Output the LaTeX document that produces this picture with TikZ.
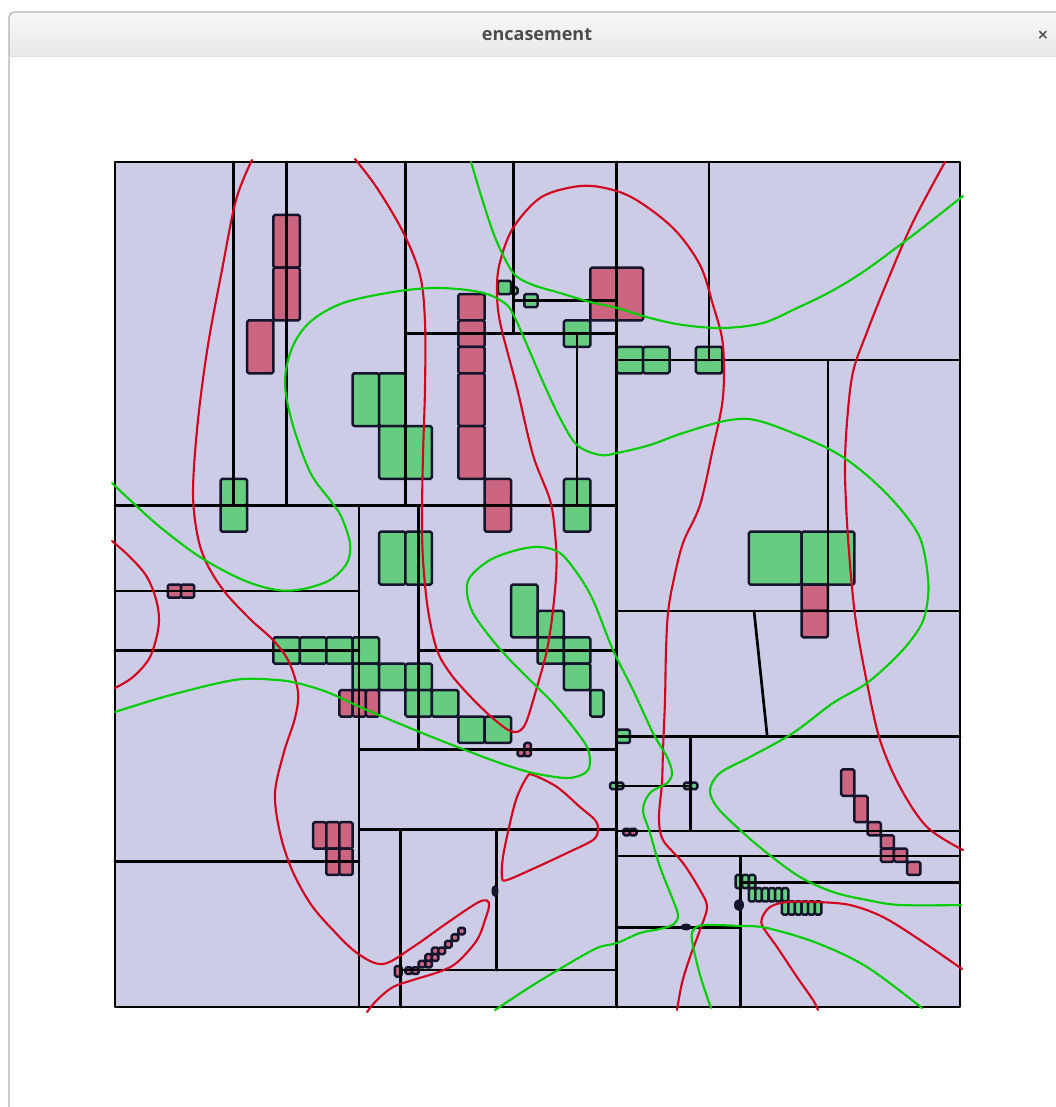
\documentclass[tikz,border=0pt]{standalone}
\usepackage{fontspec}
\newfontfamily\titlefont{Open Sans}
\newfontfamily\symfont{DejaVu Sans}
\definecolor{lav}{RGB}{204,204,230}
\definecolor{grnfill}{RGB}{102,204,128}
\definecolor{redfill}{RGB}{204,102,128}
\definecolor{rim}{RGB}{20,20,45}
\definecolor{redline}{RGB}{210,0,30}
\definecolor{grnline}{RGB}{0,205,0}
\definecolor{barTop}{RGB}{248,248,248}
\definecolor{barBot}{RGB}{232,232,232}
\definecolor{titlegray}{RGB}{76,76,76}
\begin{document}
\begin{tikzpicture}[x=0.5pt, y=-0.5pt, line join=round, line cap=round,
  cut/.style={line width=1.35pt, black},
  gbox/.style={fill=grnfill, draw=rim, line width=1.25pt, rounded corners=0.8pt},
  pbox/.style={fill=redfill, draw=rim, line width=1.25pt, rounded corners=0.8pt},
  redc/.style={draw=redline, line width=1.05pt},
  grnc/.style={draw=grnline, line width=1.05pt}]
\useasboundingbox (0,0) rectangle (1055,1107);
\fill[white] (0,0) rectangle (1055,1107);
\path[top color=barTop, bottom color=barBot] (9,57) [rounded corners=3pt] -- (9,12) -- (1064,12) [sharp corners] -- (1064,57) -- cycle;
\draw[gray!60, line width=0.6pt] (9,1110) [rounded corners=3pt] -- (9,12) -- (1064,12);
\draw[gray!25, line width=0.5pt] (9,57) -- (1064,57);
\node[font=\titlefont\bfseries\fontsize{9}{10}\selectfont, text=titlegray] (title) at (537,35) {encasement};
\node[font=\symfont\bfseries\fontsize{7}{8}\selectfont, text=titlegray] (close) at (1043,35) {×};

\begin{scope}[shift={(115,162)}, x=13.203pt, y=-13.203pt]
  \fill[lav] (0,0) rectangle (32,32);
  \foreach \a/\b/\c/\d in {4/12/5/13, 4/13/5/14, 9/8/10/10, 10/8/11/10, 10/10/11/12, 11/10/12/12,
    14.5/4.5/15/5, 15/4.75/15.25/5, 15.5/5/16/5.5, 17/6/18/7, 19/7/20/8, 20/7/21/8, 22/7/23/8,
    17/12/18/14, 10/14/11/16, 11/14/12/16, 24/14/26/16, 26/14/28/16,
    15/16/16/18, 16/17/17/18, 16/18/17/19, 17/18/18/19, 17/19/18/20, 18/20/18.5/21,
    6/18/7/19, 7/18/8/19, 8/18/9/19, 9/18/10/19, 9/19/10/20, 10/19/11/20, 11/19/12/20,
    11/20/12/21, 12/20/13/21, 13/21/14/22, 14/21/15/22, 19/21.5/19.5/22,
    18.75/23.5/19/23.75, 19/23.5/19.25/23.75, 21.55/23.5/21.8/23.75, 21.8/23.5/22.05/23.75,
    23.5/27/23.75/27.5, 23.75/27/24/27.5, 24/27/24.25/27.5}
    \draw[gbox] (\a,\b) rectangle (\c,\d);
  \foreach \i in {0,...,5} {
    \draw[gbox] (24+\i/4,27.5) rectangle (24.25+\i/4,28);
    \draw[gbox] (25.25+\i/4,28) rectangle (25.5+\i/4,28.5);
  }
  \foreach \a/\b/\c/\d in {6/2/7/4, 6/4/7/6, 5/6/6/8, 13/5/14/6, 13/6/14/7, 13/7/14/8, 13/8/14/10,
    13/10/14/12, 14/12/15/13, 14/13/15/14, 18/4/20/6, 2/16/2.5/16.5, 2.5/16/3/16.5,
    8.5/20/9/21, 9/20/9.5/21, 9.5/20/10/21,
    15.5/22/15.75/22.25, 15.25/22.25/15.5/22.5, 15.5/22.25/15.75/22.5,
    7.5/25/8/26, 8/25/8.5/26, 8.5/25/9/26, 8/26/8.5/27, 8.5/26/9/27, 26/16/27/17, 26/17/27/18,
    27.5/23/28/24, 28/24/28.5/25, 28.5/25/29/25.5, 29/25.5/29.5/26, 29/26/29.5/26.5,
    29.5/26/30/26.5, 30/26.5/30.5/27, 19.25/25.25/19.5/25.5, 19.5/25.25/19.75/25.5,
    13/29/13.25/29.25, 12.75/29.25/13/29.5, 12.5/29.5/12.75/29.75, 12/29.75/12.25/30,
    12.25/29.75/12.5/30, 11.75/30/12/30.25, 12/30/12.25/30.25, 11.5/30.25/11.75/30.5,
    11.75/30.25/12/30.5, 11/30.5/11.25/30.75, 11.25/30.5/11.5/30.75, 10.6/30.45/10.85/30.85}
    \draw[pbox] (\a,\b) rectangle (\c,\d);
  \foreach \x/\p/\q in {19/0/32, 4.5/0/13, 6.5/0/13, 11/0/13, 15.1/0/6.5, 17.5/6.5/13, 22.5/0/7.5,
    27/7.5/17, 9.24/13/32, 11.5/13/22.25, 21.8/21.75/25.33, 23.7/26.28/32, 10.8/25.27/32,
    14.45/25.27/30.6}
    \draw[cut] (\x,\p) -- (\x,\q);
  \foreach \y/\p/\q in {13/0/19, 6.5/11/19, 5.25/15.1/19, 7.5/19/32, 17/19/32, 21.75/19/32,
    23.63/19/21.8, 25.33/19/32, 26.28/19/32, 27.28/23.7/32, 29/19/23.7, 16.25/0/9.24,
    18.5/0/9.24, 26.5/0/9.24, 18.5/11.5/19, 22.25/9.24/19, 25.27/9.24/19, 30.6/10.8/19}
    \draw[cut] (\p,\y) -- (\q,\y);
  \draw[cut] (24.2,17) -- (24.7,21.75);
  \draw[cut] (0,0) rectangle (32,32);
\end{scope}

\fill[rim] (495,891) ellipse [x radius=3.5, y radius=6];
\fill[rim] (739,905) ellipse [x radius=5, y radius=6];
\fill[rim] (686,927) ellipse [x radius=5.5, y radius=3.5];

\draw[redc] plot[smooth, tension=0.55] coordinates {(252,160) (236,200) (222,270) (208,345) (198,420)
  (193,490) (197,533) (206,562) (224,591) (250,619) (273,640) (289,662) (298,692) (295,718) (284,752)
  (275,793) (280,833) (292,870) (310,903) (331,928) (357,953) (383,964) (413,947) (447,923) (477,903)
  (487,900.5) (489,906) (486,917) (477,940) (457,962.5) (440,971.5) (413,980) (393,987) (377,1000) (367,1012)};
\draw[redc] plot[smooth, tension=0.55] coordinates {(355,159) (377,188) (403,232) (420,275) (425,322)
  (425,388) (423,455) (422,515) (423,560) (428,610) (437,650) (450,673) (467,693) (487,713) (505,728)
  (514,732) (521,730) (527,720) (537,687) (547,650) (553,610) (556.5,567) (555,533) (550,500) (533,455)
  (517,388) (500,322) (497,288) (500,262) (513,228) (540,198) (573,187) (600,187) (633,198) (673,228)
  (700,265) (713,305) (722,338) (724,372) (722,405) (713,448) (700,505) (683,543) (673,583) (668,613)
  (666,650) (665,700) (663,750) (662,783) (659,817) (663,840) (683,863) (700,890) (707,907) (700,930)
  (690,957) (682,983) (677,1010)};
\draw[redc] plot[smooth, tension=0.55] coordinates {(945,162) (913,222) (887,282) (867,332) (853,372)
  (847,422) (845,472) (848,538) (855,615) (867,683) (880,740) (900,787) (927,827) (963,850)};
\draw[redc] plot[smooth, tension=0.55] coordinates {(112,541) (130,557) (147,577) (157,603) (158.5,627)
  (150,657) (133,677) (115,688)};
\draw[redc] plot[smooth cycle, tension=0.55] coordinates {(533,775) (557,787) (580,807) (595,820)
  (598,830) (593,840) (567,853) (537,867) (507,880) (502,877) (503,857) (510,823) (517,797) (527,777)};
\draw[redc] plot[smooth, tension=0.55] coordinates {(962,969) (920,940) (883,917) (850,905) (817,902)
  (787,902) (770,907) (762,918) (763,927) (777,947) (797,977) (813,1000) (818,1010)};

\draw[grnc] plot[smooth, tension=0.55] coordinates {(471,162) (483,202) (493,232) (503,255) (515,275)
  (533,285) (560,293) (590,302) (617,308) (650,318) (683,325) (723,328) (763,323) (797,308) (830,292)
  (863,272) (900,245) (930,222) (963,196)};
\draw[grnc] plot[smooth, tension=0.55] coordinates {(112,483) (130,500) (160,527) (200,557) (243,580)
  (277,590) (303,589) (330,580) (347,563) (350,543) (341,516) (330,500) (310,472) (292,422) (285,382)
  (292,348) (310,322) (343,303) (393,292) (433,288) (467,290) (490,295) (507,305) (515,318) (527,345)
  (543,382) (560,418) (577,445) (600,455) (617,453) (650,445) (683,433) (730,420) (763,422) (827,448)
  (863,472) (897,505) (920,538) (928,578) (927,605) (920,627) (900,653) (867,683) (833,703) (793,733)
  (750,757) (720,773) (710,790) (717,807) (740,830) (767,853) (800,877) (833,892) (867,900) (900,905)
  (961,905)};
\draw[grnc] plot[smooth, tension=0.55] coordinates {(115,712) (160,698) (210,685) (243,679) (277,680)
  (297,683) (327,692) (360,707) (393,721) (427,735) (460,748) (500,763) (533,773) (567,778) (585,773)
  (590,763) (587,747) (573,727) (553,703) (533,683) (510,660) (490,637) (473,613) (467,593) (470,577)
  (490,560) (517,550) (540,547) (560,553) (577,573) (593,600) (613,650) (633,690) (653,733) (667,757)
  (672,773) (667,783) (650,793) (643,810) (650,833) (660,867) (673,900) (678,915) (674,924) (660,929)
  (640,933) (617,943) (597,948) (563,967) (530,987) (495,1010)};
\draw[grnc] plot[smooth, tension=0.55] coordinates {(922,1008) (867,967) (817,943) (767,928) (740,926)
  (705,925) (694,929) (692,940) (700,975) (711,1008)};
\end{tikzpicture}
\end{document}
